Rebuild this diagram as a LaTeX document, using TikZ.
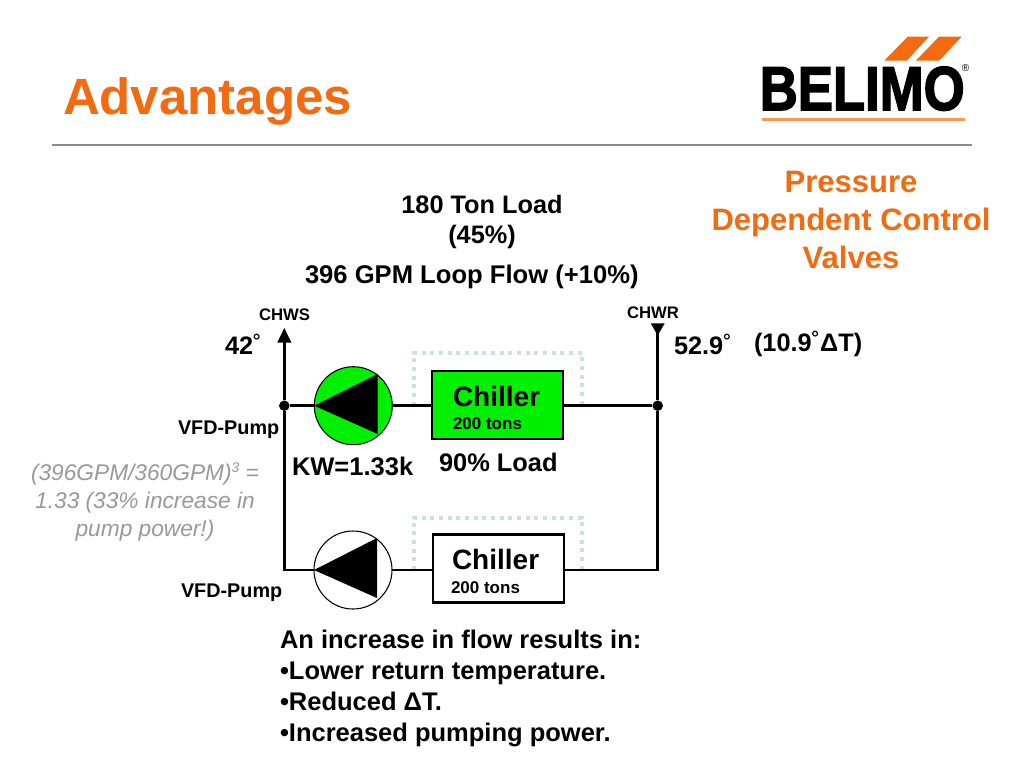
\documentclass[tikz,border=0pt]{standalone}
\usepackage{fontspec}
\setmainfont{Liberation Sans}
\newfontfamily\logofont[FakeBold=2.6]{Liberation Sans Bold}
\newcommand{\fpx}[2]{\pgfmathsetmacro{\fa}{#1*0.75}\pgfmathsetmacro{\fb}{#2*0.75}\fontsize{\fa pt}{\fb pt}\selectfont}
\newcommand{\degring}{{\mdseries ˚}}
\definecolor{belorange}{HTML}{F26B11}
\definecolor{logoline}{HTML}{F39A50}
\definecolor{pumpgreen}{HTML}{00F000}
\definecolor{dotblue}{HTML}{CBE1E5}
\definecolor{softgray}{HTML}{999999}
\definecolor{rulegray}{HTML}{8C8C8C}
\tikzset{
  lbl/.style={inner sep=0pt,outer sep=0pt,anchor=base west},
  clbl/.style={inner sep=0pt,outer sep=0pt,anchor=base,align=center},
  pipe/.style={line width=2.2pt,black},
  pumpc/.style={circle,draw=black,line width=0.8pt,minimum size=78*0.75pt,inner sep=0pt,outer sep=0pt},
  chbox/.style={rectangle,draw=black,line width=1.9pt,minimum width=131*0.75pt,minimum height=68*0.75pt,inner sep=0pt,outer sep=0pt},
  junction/.style={circle,fill=black,minimum size=10.5*0.75pt,inner sep=0pt},
  dotline/.style={dotblue,line width=3pt,dash pattern=on 3pt off 3.5pt},
  tip/.style={fill=black,draw=none}
}
\begin{document}
\begin{tikzpicture}[x=0.75pt,y=-0.75pt]
\useasboundingbox (0,0) rectangle (1024,768);
\fill[white] (0,0) rectangle (1024,768);
% title and rule
\node[lbl,text=belorange,font=\bfseries\fpx{51}{51}] (title) at (63,114) {Advantages};
\coordinate (ruleL) at (52,145); \coordinate (ruleR) at (972,145);
\draw[line width=1.6pt,draw=rulegray] (ruleL) -- (ruleR);
% logo
\fill[belorange] (907.7,36.7) -- (929,36.7) -- (906.7,60.7) -- (884.3,60.7) -- cycle;
\fill[belorange] (939,36.7) -- (961.7,36.7) -- (939,60.7) -- (915.7,60.7) -- cycle;
\node[inner sep=0pt,anchor=base west,transform shape,xscale=0.85,font=\logofont\fpx{62}{62}] (logo) at (759.5,110) {BELIMO};
\node[inner sep=0pt,font=\fontsize{7.5pt}{7.5pt}\selectfont] (reg) at (965.5,68) {®};
\fill[logoline] (761.7,118.3) rectangle (965,120.6);
% headings
\node[clbl,text=belorange,font=\bfseries\fpx{31}{38}] (pdcv) at (851,268.5) {Pressure\\Dependent Control\\Valves};
\node[clbl,font=\bfseries\fpx{25.3}{30.5}] (load) at (482,243.5) {180 Ton Load\\(45\%)};
\node[lbl,font=\bfseries\fpx{25.6}{25}] (flow) at (305,283) {396 GPM Loop Flow (+10\%)};
% dotted bypass
\coordinate (d1a) at (413.7,405.7); \coordinate (d1b) at (413.7,353); \coordinate (d1c) at (582,353); \coordinate (d1d) at (582,405.7);
\coordinate (d2a) at (413.5,570); \coordinate (d2b) at (413.5,517.5); \coordinate (d2c) at (581.5,517.5); \coordinate (d2d) at (581.5,570);
\draw[dotline] (d1a) -- (d1b) -- (d1c) -- (d1d);
\draw[dotline] (d2a) -- (d2b) -- (d2c) -- (d2d);
% junctions and reference points
\node[junction] (j1) at (284.3,405.7) {};
\node[junction] (j2) at (657.7,405.7) {};
\coordinate (sTop) at (284.3,342);
\coordinate (sTip) at (284.3,328);
\coordinate (rTop) at (657.7,330);
\coordinate (corL) at (284.3,570);
\coordinate (corR) at (657.7,570);
% equipment
\node[pumpc,fill=pumpgreen] (p1) at (353.3,405.7) {};
\node[pumpc,fill=white] (p2) at (353,570) {};
\node[chbox,fill=pumpgreen] (c1) at (497.5,405) {};
\node[chbox,fill=white] (c2) at (498.5,568.5) {};
\fill[black] (p1.west) -- (377.7,374) -- (377.7,434) -- cycle;
\fill[black] (p2.west) -- (377,538) -- (377,598) -- cycle;
% pipes
\draw[pipe] (j1) -- (p1);
\draw[pipe] (p1) -- (c1.west |- p1);
\draw[pipe] (c1.east |- j2) -- (j2);
\draw[pipe] (sTop) -- (j1) -- (corL) -- (p2);
\draw[pipe] (p2) -- (c2.west |- p2);
\draw[pipe] (c2.east |- corR) -- (corR) -- (j2) -- (rTop);
\fill[tip] (sTip) -- (291.5,342.7) -- (277.2,342.7) -- cycle;
\fill[tip] (650.7,323.3) -- (664.7,323.3) -- (657.7,335.5) -- cycle;
% chiller text
\node[lbl,font=\bfseries\fpx{28}{28}] (c1t) at (453,406.5) {Chiller};
\node[lbl,font=\bfseries\fpx{17}{17}] (c1s) at (453,429) {200 tons};
\node[lbl,font=\bfseries\fpx{28}{28}] (c2t) at (452,569) {Chiller};
\node[lbl,font=\bfseries\fpx{17}{17}] (c2s) at (451,593) {200 tons};
% labels
\node[lbl,font=\bfseries\fpx{16.7}{16.7}] (chws) at (259,320) {CHWS};
\node[lbl,font=\bfseries\fpx{16.7}{16.7}] (chwr) at (627,318) {CHWR};
\node[lbl,font=\bfseries\fpx{25.3}{25}] (t42) at (225,354) {42\degring};
\node[lbl,font=\bfseries\fpx{25.3}{25}] (t529) at (674,354) {52.9\degring};
\node[lbl,font=\bfseries\fpx{25.3}{25}] (dt) at (754,351) {(10.9\degring ΔT)};
\node[lbl,font=\bfseries\fpx{19.8}{19.8}] (vfd1) at (178,434) {VFD-Pump};
\node[lbl,font=\bfseries\fpx{19.8}{19.8}] (vfd2) at (181,597) {VFD-Pump};
\node[lbl,font=\bfseries\fpx{25.5}{25.5}] (kw) at (292,475) {KW=1.33k};
\node[lbl,font=\bfseries\fpx{25.4}{25}] (pl) at (439,471) {90\% Load};
\node[clbl,text=softgray,font=\itshape\fpx{22.7}{28}] (note) at (145,536) {(396GPM/360GPM)\raisebox{0.35em}{\fontsize{10.5pt}{10.5pt}\selectfont 3} =\\1.33 (33\% increase in\\pump power!)};
\node[lbl,align=left,font=\bfseries\fpx{25.5}{31}] (res) at (280,741) {An increase in flow results in:\\•Lower return temperature.\\•Reduced ΔT.\\•Increased pumping power.};
\end{tikzpicture}
\end{document}
